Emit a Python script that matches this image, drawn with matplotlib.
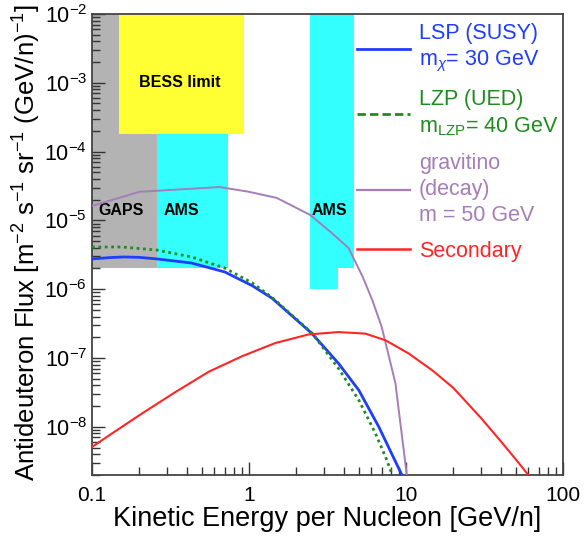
import numpy as np
import matplotlib
matplotlib.use("Agg")
import matplotlib.pyplot as plt
from matplotlib.patches import Rectangle
from matplotlib.lines import Line2D
from matplotlib.ticker import NullFormatter, LogLocator

plt.rcParams['font.family'] = ['Liberation Sans', 'DejaVu Sans']
plt.rcParams['mathtext.fontset'] = 'custom'
plt.rcParams['mathtext.rm'] = 'Liberation Sans'
plt.rcParams['mathtext.it'] = 'Liberation Sans:italic'
plt.rcParams['mathtext.bf'] = 'Liberation Sans:bold'

# LSP (SUSY), m_chi = 30 GeV
lsp_e = [0.1, 0.13, 0.16, 0.2, 0.26, 0.43, 0.7, 1.05, 1.4, 2.52, 3.72, 5.0, 6.7, 8.35, 9.4]
lsp_f = [2.75e-6, 2.88e-6, 2.94e-6, 2.9e-6, 2.75e-6, 2.4e-6, 1.78e-6, 1.12e-6,
         7.4e-7, 2.26e-7, 8.3e-8, 3.4e-8, 1.0e-8, 3.5e-9, 2.0e-9]

# LZP (UED), m_LZP = 40 GeV
lzp_e = [0.1, 0.155, 0.26, 0.43, 0.7, 1.05, 1.4, 2.52, 3.72, 5.0, 6.38, 7.38, 8.1]
lzp_f = [4.1e-6, 4.1e-6, 3.7e-6, 2.94e-6, 2.03e-6, 1.23e-6, 7.6e-7, 2.3e-7,
         7.0e-8, 2.44e-8, 8.0e-9, 3.7e-9, 2.1e-9]

# gravitino decay, m = 50 GeV
grav_e = [0.1, 0.2, 0.65, 1.0, 1.5, 2.45, 3.3, 4.3, 5.3, 6.1, 7.0, 8.55, 10.1]
grav_f = [1.62e-5, 2.6e-5, 3.05e-5, 2.6e-5, 2.12e-5, 1.2e-5, 6.8e-6, 3.97e-6,
          1.5e-6, 6.9e-7, 2.8e-7, 4.3e-8, 2.0e-9]

# secondary background
sec_e = [0.1, 0.134, 0.208, 0.34, 0.553, 0.902, 1.47, 2.4, 3.72, 5.5, 7.39, 10.4,
         14.7, 20, 30, 40, 50, 60]
sec_f = [5.1e-9, 8.0e-9, 1.56e-8, 3.2e-8, 6.3e-8, 1.06e-7, 1.65e-7, 2.2e-7, 2.38e-7,
         2.26e-7, 1.81e-7, 1.16e-7, 6.6e-8, 3.67e-8, 1.34e-8, 6.2e-9, 3.35e-9, 2.0e-9]

# sensitivity regions: (e_lo, e_hi, flux_lo, flux_hi)
gaps_box = (0.1, 0.26, 2.0e-6, 1e-2)
ams_box = (0.26, 0.73, 2.0e-6, 1e-2)
bess_box = (0.149, 0.93, 1.8e-4, 1e-2)
ams_hi_boxes = [(2.45, 3.69, 1.0e-6, 1e-2), (3.69, 4.67, 2.0e-6, 1e-2)]

xtick_vals = [0.1, 1, 10, 100]
xtick_labels = ['0.1', '1', '10', '100']

blue = '#1f3cff'
green = '#1e8c1e'
purple = '#a67db8'
red = '#ff2525'
cyan = '#33ffff'
yellow = '#ffff33'
gray = '#b3b3b3'

fig = plt.figure(figsize=(5.86, 5.36), dpi=100)
ax = fig.add_axes([0.157, 0.114, 0.804, 0.860])


def box(b, color, z=1):
    ax.add_patch(Rectangle((b[0], b[2]), b[1] - b[0], b[3] - b[2],
                           facecolor=color, edgecolor='none', zorder=z))


box(ams_box, cyan)
box(gaps_box, gray)
box(bess_box, yellow, z=1.5)
for b in ams_hi_boxes:
    box(b, cyan)

ax.text(0.36, 1.0e-3, 'BESS limit', ha='center', va='center',
        fontsize=11.5, fontweight='bold', zorder=3)
ax.text(0.153, 1.37e-5, 'GAPS', ha='center', va='center',
        fontsize=11.5, fontweight='bold', zorder=3)
ax.text(0.37, 1.37e-5, 'AMS', ha='center', va='center',
        fontsize=11.5, fontweight='bold', zorder=3)
ax.text(3.24, 1.37e-5, 'AMS', ha='center', va='center',
        fontsize=11.5, fontweight='bold', zorder=3)

ax.plot(lsp_e, lsp_f, color=blue, lw=2.0, zorder=4)
ax.plot(lzp_e, lzp_f, color=green, lw=2.0, ls=(0, (1, 1.3)), zorder=4)
ax.plot(grav_e, grav_f, color=purple, lw=1.4, zorder=4)
ax.plot(sec_e, sec_f, color=red, lw=1.5, zorder=4)

ax.set_xscale('log')
ax.set_yscale('log')
ax.set_xlim(0.1, 100)
ax.set_ylim(2e-9, 1e-2)
ax.set_xticks(xtick_vals, labels=xtick_labels)
ax.yaxis.set_major_locator(LogLocator(base=10, numticks=20))
ax.yaxis.set_minor_locator(LogLocator(base=10, subs=np.arange(2, 10), numticks=20))
ax.xaxis.set_minor_formatter(NullFormatter())
ax.yaxis.set_minor_formatter(NullFormatter())
ax.tick_params(which='both', direction='in', labelsize=15, color='#333333')
ax.tick_params(axis='y', labelsize=15.5)
ax.tick_params(which='major', length=9.5, width=1.0)
ax.tick_params(which='minor', length=6, width=1.0)
ax.tick_params(axis='x', pad=8)
for s in ax.spines.values():
    s.set_color('#444444')
    s.set_linewidth(1.3)

ax.set_xlabel('Kinetic Energy per Nucleon [GeV/n]', fontsize=19.5, labelpad=1)
ax.set_ylabel(r'Antideuteron Flux [m$^{-2}$ s$^{-1}$ sr$^{-1}$ (GeV/n)$^{-1}$]',
              fontsize=18.5)
ax.yaxis.set_label_coords(-0.104, 0.505)

handles = [
    Line2D([], [], color=blue, lw=2.0),
    Line2D([], [], color=green, lw=2.0, ls=(0, (3, 1.5))),
    Line2D([], [], color=purple, lw=1.6),
    Line2D([], [], color=red, lw=1.8),
]
labels = [
    'LSP (SUSY)\nm$_\\chi$= 30 GeV',
    'LZP (UED)\nm$_{\\rm LZP}$= 40 GeV',
    'gravitino\n(decay)\nm = 50 GeV',
    'Secondary',
]
leg = ax.legend(handles, labels, loc='upper left', bbox_to_anchor=(0.563, 0.980),
                frameon=False, fontsize=15.5, handlelength=2.45, handletextpad=0.42,
                labelspacing=0.7, borderpad=0, borderaxespad=0, labelcolor='linecolor')
for t in leg.get_texts():
    t.set_linespacing(1.3)
leg.set_zorder(5)

fig.savefig('out.png', dpi=100)
